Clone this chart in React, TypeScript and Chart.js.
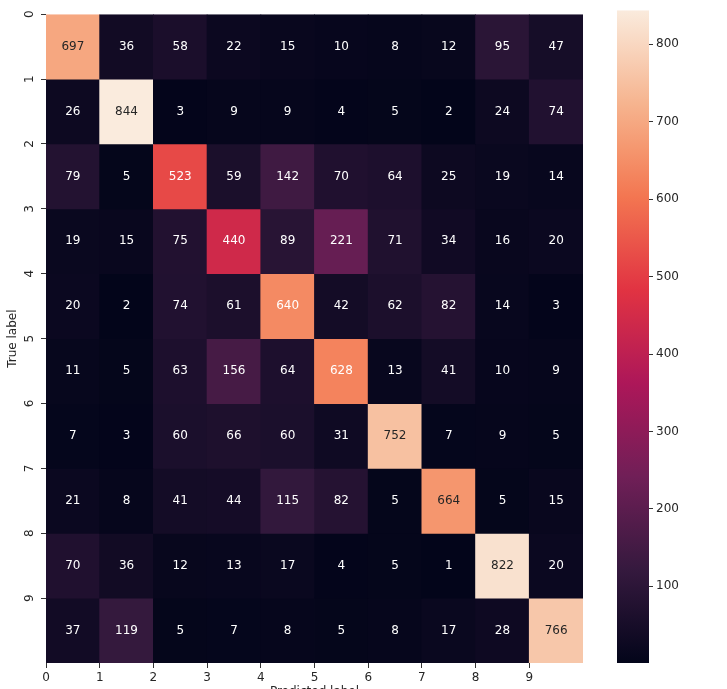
import React, { useEffect, useRef } from 'react';
import { Chart, registerables } from 'chart.js';

Chart.register(...registerables);

// ---- data ----
const trueLabels = ['0', '1', '2', '3', '4', '5', '6', '7', '8', '9'];
const predLabels = ['0', '1', '2', '3', '4', '5', '6', '7', '8', '9'];

const row0 = [697, 36, 58, 22, 15, 10, 8, 12, 95, 47];
const row1 = [26, 844, 3, 9, 9, 4, 5, 2, 24, 74];
const row2 = [79, 5, 523, 59, 142, 70, 64, 25, 19, 14];
const row3 = [19, 15, 75, 440, 89, 221, 71, 34, 16, 20];
const row4 = [20, 2, 74, 61, 640, 42, 62, 82, 14, 3];
const row5 = [11, 5, 63, 156, 64, 628, 13, 41, 10, 9];
const row6 = [7, 3, 60, 66, 60, 31, 752, 7, 9, 5];
const row7 = [21, 8, 41, 44, 115, 82, 5, 664, 5, 15];
const row8 = [70, 36, 12, 13, 17, 4, 5, 1, 822, 20];
const row9 = [37, 119, 5, 7, 8, 5, 8, 17, 28, 766];
const matrix = [row0, row1, row2, row3, row4, row5, row6, row7, row8, row9];

const colorbarTicks = [100, 200, 300, 400, 500, 600, 700, 800];
const vmin = 1;
const vmax = 844;

const xTitle = 'Predicted label';
const yTitle = 'True label';

// ---- rocket colormap (approx.) ----
const rocketStops: [number, number[]][] = [
  [0.0, [3, 5, 26]],
  [1 / 7, [53, 25, 62]],
  [2 / 7, [112, 31, 87]],
  [3 / 7, [173, 23, 89]],
  [4 / 7, [225, 51, 66]],
  [5 / 7, [243, 118, 81]],
  [11 / 14, [245, 150, 110]],
  [6 / 7, [246, 180, 143]],
  [1.0, [250, 235, 221]],
];

function rocket(t: number): number[] {
  t = Math.max(0, Math.min(1, t));
  for (let k = 0; k < rocketStops.length - 1; k++) {
    const [t0, c0] = rocketStops[k];
    const [t1, c1] = rocketStops[k + 1];
    if (t <= t1) {
      const f = (t - t0) / (t1 - t0);
      return c0.map((c, i) => c + (c1[i] - c) * f);
    }
  }
  return rocketStops[rocketStops.length - 1][1];
}

function valueColor(v: number): number[] {
  return rocket((v - vmin) / (vmax - vmin));
}

function rgbStr(c: number[]) {
  return `rgb(${Math.round(c[0])},${Math.round(c[1])},${Math.round(c[2])})`;
}

function luminance(c: number[]) {
  const lin = c.map((x) => {
    const s = x / 255;
    return s <= 0.03928 ? s / 12.92 : Math.pow((s + 0.055) / 1.055, 2.4);
  });
  return 0.2126 * lin[0] + 0.7152 * lin[1] + 0.0722 * lin[2];
}

const FONT_FAMILY = '"DejaVu Sans", sans-serif';
const TEXT_DARK = '#262626';

const cellTextPlugin = {
  id: 'cellText',
  afterDatasetsDraw(chart: any) {
    const ctx = chart.ctx;
    ctx.save();
    ctx.font = `12px ${FONT_FAMILY}`;
    ctx.textAlign = 'center';
    ctx.textBaseline = 'middle';
    chart.data.datasets.forEach((_ds: any, i: number) => {
      const meta = chart.getDatasetMeta(i);
      meta.data.forEach((el: any, j: number) => {
        const v = matrix[i][j];
        const { x, y, base } = el.getProps(['x', 'y', 'base'], true);
        ctx.fillStyle = luminance(valueColor(v)) > 0.408 ? TEXT_DARK : '#ffffff';
        ctx.fillText(String(v), x, (y + base) / 2);
      });
    });
    ctx.restore();
  },
};

export default function App() {
  const heatRef = useRef<HTMLCanvasElement | null>(null);
  const cbRef = useRef<HTMLCanvasElement | null>(null);

  useEffect(() => {
    const font = { family: FONT_FAMILY, size: 12 };

    const datasets = matrix.map((row, i) => ({
      label: trueLabels[i],
      data: row.map((_v, j) => ({ x: j + 0.5, y: [i, i + 1] })),
      backgroundColor: row.map((v) => rgbStr(valueColor(v))),
      borderWidth: 0,
      barPercentage: 1,
      categoryPercentage: 1,
      grouped: false,
      inflateAmount: 0.4,
    }));

    const heat = new Chart(heatRef.current as HTMLCanvasElement, {
      type: 'bar',
      data: { datasets: datasets as any },
      options: {
        animation: false,
        responsive: false,
        devicePixelRatio: 1,
        layout: { padding: { left: 0, right: 17, top: 9, bottom: 0 } },
        plugins: { legend: { display: false }, tooltip: { enabled: false } },
        scales: {
          x: {
            type: 'linear',
            min: 0,
            max: 10,
            offset: false,
            afterBuildTicks: (s: any) => {
              s.ticks = predLabels.map((_l, k) => ({ value: k }));
            },
            afterFit: (s: any) => {
              s.height = 57;
            },
            grid: { drawOnChartArea: false, drawTicks: true, tickLength: 5, tickColor: '#333', offset: false },
            border: { display: false },
            ticks: {
              padding: 3,
              color: TEXT_DARK,
              font,
              maxRotation: 0,
              autoSkip: false,
              callback: (v: any) => predLabels[v] ?? '',
            },
            title: { display: true, text: xTitle, color: TEXT_DARK, font, padding: { top: 0, bottom: 20.6 } },
          },
          y: {
            type: 'linear',
            min: 0,
            max: 10,
            reverse: true,
            offset: false,
            afterBuildTicks: (s: any) => {
              s.ticks = trueLabels.map((_l, k) => ({ value: k }));
            },
            afterFit: (s: any) => {
              s.width = 46;
            },
            grid: { drawOnChartArea: false, drawTicks: true, tickLength: 5, tickColor: '#333', offset: false },
            border: { display: false },
            ticks: {
              minRotation: 90,
              maxRotation: 90,
              crossAlign: 'center',
              padding: 7,
              color: TEXT_DARK,
              font,
              autoSkip: false,
              callback: (v: any) => trueLabels[v] ?? '',
            },
            title: { display: true, text: yTitle, color: TEXT_DARK, font, padding: { top: 5.5, bottom: 0 } },
          },
        },
      } as any,
      plugins: [cellTextPlugin],
    });

    const cb = new Chart(cbRef.current as HTMLCanvasElement, {
      type: 'bar',
      data: {
        labels: ['colorbar'],
        datasets: [
          {
            data: [[vmin, vmax]] as any,
            borderWidth: 0,
            barPercentage: 1,
            categoryPercentage: 1,
            inflateAmount: 0,
            backgroundColor: (c: any) => {
              const chart = c.chart;
              if (!chart.chartArea) return '#000';
              const ys = chart.scales.y;
              const g = chart.ctx.createLinearGradient(0, ys.getPixelForValue(vmin), 0, ys.getPixelForValue(vmax));
              rocketStops.forEach(([t, col]) => g.addColorStop(t, rgbStr(col)));
              return g;
            },
          } as any,
        ],
      },
      options: {
        animation: false,
        responsive: false,
        devicePixelRatio: 1,
        layout: { padding: { left: 17, right: 0, top: 9, bottom: 26 } },
        plugins: { legend: { display: false }, tooltip: { enabled: false } },
        scales: {
          x: { display: false },
          y: {
            position: 'right',
            min: vmin,
            max: vmax,
            afterBuildTicks: (s: any) => {
              s.ticks = colorbarTicks.map((v) => ({ value: v }));
            },
            afterFit: (s: any) => {
              s.width = 78;
            },
            grid: { drawOnChartArea: false, drawTicks: true, tickLength: 4, tickColor: '#333' },
            border: { display: false },
            ticks: { padding: 3, color: TEXT_DARK, font, autoSkip: false, callback: (v: any) => String(v) },
          },
        },
      } as any,
    });

    return () => {
      heat.destroy();
      cb.destroy();
    };
  }, []);

  return (
    <div
      style={{
        position: 'fixed',
        left: 0,
        top: 0,
        width: 727,
        height: 689,
        overflow: 'hidden',
        background: '#ffffff',
      }}
    >
      <canvas
        ref={heatRef}
        width={600}
        height={720}
        style={{ position: 'absolute', left: 0, top: 0, width: 600, height: 720 }}
      />
      <canvas
        ref={cbRef}
        width={127}
        height={689}
        style={{ position: 'absolute', left: 600, top: 0, width: 127, height: 689 }}
      />
    </div>
  );
}
